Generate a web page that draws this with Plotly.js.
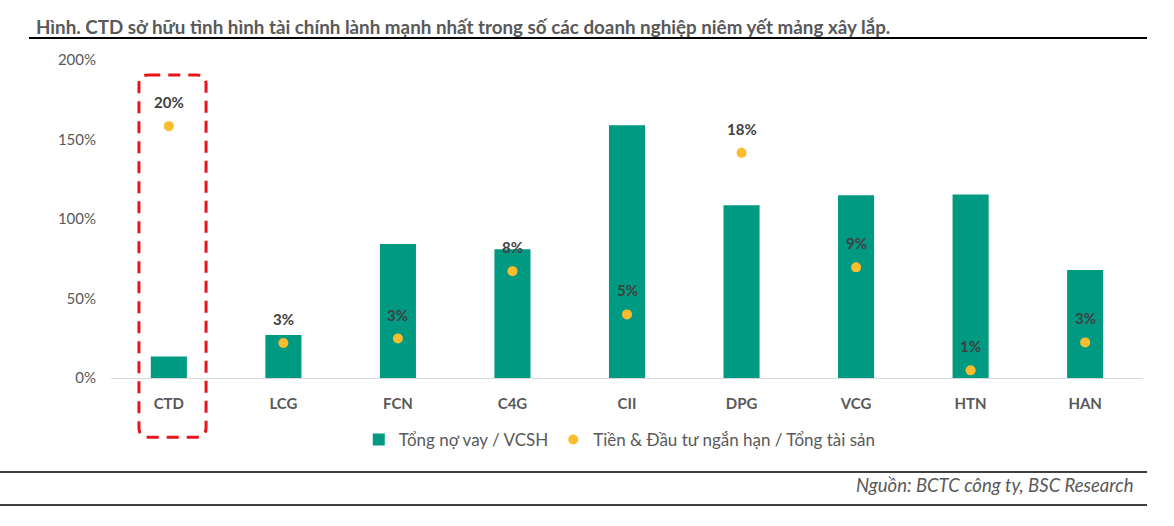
<!DOCTYPE html>
<html>
<head>
<meta charset="utf-8">
<script src="https://cdn.plot.ly/plotly-3.0.1.min.js"></script>
<style>html,body{margin:0;padding:0;background:#fff;}#chart{width:1174px;height:526px;}</style>
</head>
<body>
<div id="chart"></div>
<script>
// ---- data ----
const categories = ["CTD", "LCG", "FCN", "C4G", "CII", "DPG", "VCG", "HTN", "HAN"];
const debtToEquity = [0.136, 0.271, 0.842, 0.81, 1.59, 1.086, 1.15, 1.154, 0.68];      // Tổng nợ vay / VCSH
const cashToAssets = [0.198, 0.0275, 0.031, 0.084, 0.050, 0.177, 0.087, 0.006, 0.028]; // Tiền & ĐTNH / Tổng tài sản
const seriesNames = ["Tổng nợ vay / VCSH", "Tiền & Đầu tư ngắn hạn / Tổng tài sản"];
const titleText = "Hình. CTD sở hữu tình hình tài chính lành mạnh nhất trong số các doanh nghiệp niêm yết mảng xây lắp.";
const sourceText = "Nguồn: BCTC công ty, BSC Research";

const FONT = "Lato, 'Open Sans', sans-serif";
const GREY = "#595959";

const traces = [
  {
    type: "bar", name: seriesNames[0], x: categories, y: debtToEquity,
    marker: {color: "#009A82"}, width: 0.315, yaxis: "y"
  },
  {
    type: "scatter", mode: "markers", name: seriesNames[1], x: categories, y: cashToAssets,
    marker: {color: "#FBBD2E", size: 10}, yaxis: "y2"
  }
];

const labelAnnotations = categories.map((c, i) => ({
  x: c, y: cashToAssets[i], xref: "x", yref: "y2",
  text: Math.round(cashToAssets[i] * 100) + "%",
  showarrow: false, yshift: 24,
  font: {family: FONT, size: 15, color: "#404040", weight: "bold"}
}));

// rounded dashed highlight box around CTD (paper coords)
const bx0 = 0.0271, bx1 = 0.0921, by0 = -0.186, by1 = 0.953, rx = 0.009, ry = 0.03;
const boxPath = `M ${bx0+rx},${by1} L ${bx1-rx},${by1} Q ${bx1},${by1} ${bx1},${by1-ry} L ${bx1},${by0+ry} Q ${bx1},${by0} ${bx1-rx},${by0} L ${bx0+rx},${by0} Q ${bx0},${by0} ${bx0},${by0+ry} L ${bx0},${by1-ry} Q ${bx0},${by1} ${bx0+rx},${by1} Z`;

const layout = {
  width: 1174, height: 526,
  margin: {l: 111, r: 31, t: 60, b: 148},
  paper_bgcolor: "#fff", plot_bgcolor: "#fff",
  font: {family: FONT, color: GREY},
  title: {
    text: titleText, xref: "container", x: 36/1174, xanchor: "left",
    yref: "container", y: 1 - 27/526, yanchor: "middle",
    font: {family: FONT, size: 18.8, color: GREY, weight: "bold"}
  },
  showlegend: true,
  legend: {
    orientation: "h", x: 0.493, xanchor: "center", y: -0.195, yanchor: "middle",
    font: {family: FONT, size: 17, color: GREY}, itemwidth: 30, traceorder: "normal"
  },
  bargap: 0.2,
  xaxis: {
    type: "category", showgrid: false, zeroline: false,
    showline: true, linecolor: "#D9D9D9", linewidth: 1,
    ticks: "", ticklabelstandoff: 12,
    tickfont: {family: FONT, size: 15, color: GREY, weight: "bold"}
  },
  yaxis: {
    range: [0, 2], dtick: 0.5, tickformat: ".0%", showgrid: false, zeroline: false,
    showline: false, ticks: "", ticklabelstandoff: 14,
    tickfont: {family: FONT, size: 15, color: GREY}
  },
  yaxis2: {
    range: [0, 0.25], overlaying: "y", side: "right", visible: false, showgrid: false, zeroline: false
  },
  annotations: labelAnnotations.concat([
    {
      text: sourceText, xref: "paper", yref: "paper", x: 0.993, y: -0.3365,
      xanchor: "right", yanchor: "middle", showarrow: false,
      font: {family: FONT, size: 18.5, color: GREY, style: "italic"}
    }
  ]),
  shapes: [
    {type: "path", xref: "paper", yref: "paper", path: boxPath,
     line: {color: "#E8141B", width: 3, dash: "12px,8px"}},
    {type: "line", xref: "paper", yref: "paper", x0: -0.0795, x1: 1.0039, y0: 1.069, y1: 1.069,
     line: {color: "#000", width: 2}},
    {type: "line", xref: "paper", yref: "paper", x0: -0.11, x1: 1.0039, y0: -0.2956, y1: -0.2956,
     line: {color: "#000", width: 1.5}},
    {type: "line", xref: "paper", yref: "paper", x0: -0.11, x1: 1.0039, y0: -0.3994, y1: -0.3994,
     line: {color: "#000", width: 1.5}}
  ]
};

Plotly.newPlot("chart", traces, layout, {displayModeBar: false, staticPlot: true});
</script>
</body>
</html>
